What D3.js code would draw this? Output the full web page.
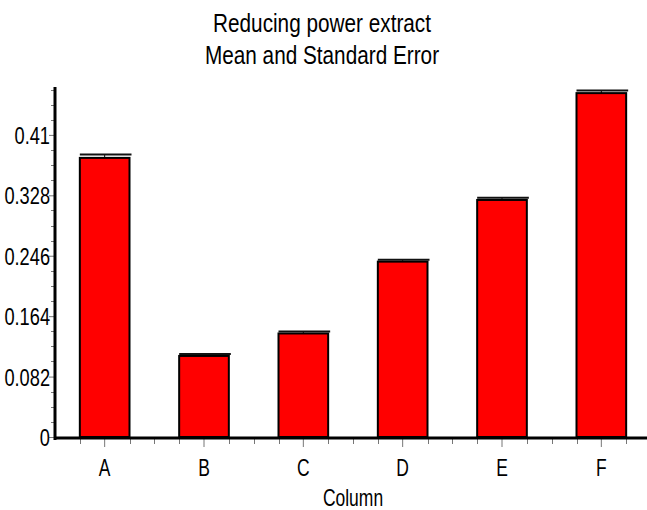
<!DOCTYPE html>
<html>
<head>
<meta charset="utf-8">
<script src="https://cdn.jsdelivr.net/npm/d3@7"></script>
<style>
  body { margin: 0; background: #fff; }
  text { font-family: "Liberation Sans", Arial, sans-serif; fill: #000; }
</style>
</head>
<body>
<script>
// chart data
var categories = ["A", "B", "C", "D", "E", "F"];
var means = [0.3788, 0.110, 0.1405, 0.238, 0.3217, 0.4667];
var stdErrors = [0.0045, 0.0027, 0.0027, 0.0027, 0.003, 0.0036];
var yTicks = [0, 0.082, 0.164, 0.246, 0.328, 0.41];
var yTickLabels = ["0", "0.082", "0.164", "0.246", "0.328", "0.41"];
var titleLines = ["Reducing power extract", "Mean and Standard Error"];
var xTitle = "Column";

const width = 647, height = 510;
var plot = {left: 55, right: 651, top: 87, bottom: 437};
var narrow = 0.76; // no narrow font installed, squeeze text horizontally

var svg = d3.select("body").append("svg")
    .attr("width", width)
    .attr("height", height);

var x = d3.scaleBand()
    .domain(categories)
    .range([plot.left, plot.right])
    .paddingInner(0).paddingOuter(0);

var y = d3.scaleLinear()
    .domain([0, 0.475])
    .range([plot.bottom, plot.top]);

var bw = x.bandwidth();

// minor ticks every quarter band on x, every quarter step on y
var xMinor = d3.range(1, categories.length * 4).filter(function(k) { return k % 4 != 2; })
    .map(function(k) { return plot.left + k * bw / 4; });
var yMinor = d3.range(0, 24).map(function(k) { return k * 0.0205; })
    .filter(function(v) { return v <= 0.475 && (Math.round(v / 0.0205) % 4 != 0); });

// Y axis
var yAxis = svg.append("g")
    .attr("transform", "translate(" + plot.left + ",0)")
    .call(d3.axisLeft(y).tickValues(yTicks).tickSize(6).tickPadding(0)
        .tickFormat(function(d, i) { return yTickLabels[i]; }));
yAxis.select(".domain").remove();
yAxis.selectAll(".tick line").attr("stroke", "#777").attr("stroke-width", 1);
yAxis.selectAll(".tick text")
    .style("font-size", "24px")
    .attr("dy", "0.36em")
    .attr("x", -5 / narrow)
    .attr("transform", "scale(" + narrow + ",1)");

svg.append("g").selectAll("line")
    .data(yMinor)
    .enter().append("line")
    .attr("x1", plot.left - 4).attr("x2", plot.left)
    .attr("y1", function(d) { return Math.round(y(d)) + 0.5; })
    .attr("y2", function(d) { return Math.round(y(d)) + 0.5; })
    .attr("stroke", "#777");

// X axis
var xAxis = svg.append("g")
    .attr("transform", "translate(0," + (plot.bottom + 1) + ")")
    .call(d3.axisBottom(x).tickSize(9).tickPadding(13));
xAxis.select(".domain").remove();
xAxis.selectAll(".tick line").attr("stroke", "#777");
xAxis.selectAll(".tick text")
    .style("font-size", "23px")
    .attr("transform", "scale(" + narrow + ",1)");

svg.append("g").selectAll("line")
    .data(xMinor)
    .enter().append("line")
    .attr("x1", function(d) { return Math.round(d) + 0.5; })
    .attr("x2", function(d) { return Math.round(d) + 0.5; })
    .attr("y1", plot.bottom + 1).attr("y2", plot.bottom + 7)
    .attr("stroke", "#777");

// bars
svg.selectAll(".bar")
    .data(categories)
    .enter().append("rect")
    .attr("class", "bar")
    .attr("x", function(d) { return x(d) + bw / 4; })
    .attr("y", function(d, i) { return y(means[i]); })
    .attr("width", bw / 2)
    .attr("height", function(d, i) { return y(0) - y(means[i]); })
    .style("fill", "#ff0000")
    .style("stroke", "#000")
    .style("stroke-width", 2);

// error bars (upper only)
var err = svg.append("g");
err.selectAll(".stem")
    .data(categories)
    .enter().append("line")
    .attr("x1", function(d) { return x(d) + bw / 2; })
    .attr("x2", function(d) { return x(d) + bw / 2; })
    .attr("y1", function(d, i) { return y(means[i]); })
    .attr("y2", function(d, i) { return y(means[i] + stdErrors[i]); })
    .attr("stroke", "#000").attr("stroke-width", 1);
err.selectAll(".cap")
    .data(categories)
    .enter().append("line")
    .attr("x1", function(d) { return x(d) + bw / 4; })
    .attr("x2", function(d) { return x(d) + 3 * bw / 4 + 2; })
    .attr("y1", function(d, i) { return y(means[i] + stdErrors[i]); })
    .attr("y2", function(d, i) { return y(means[i] + stdErrors[i]); })
    .attr("stroke", "#111").attr("stroke-width", 2);

// axis lines
svg.append("line")
    .attr("x1", plot.left).attr("x2", plot.left)
    .attr("y1", plot.top).attr("y2", plot.bottom + 3)
    .attr("stroke", "#000").attr("stroke-width", 3);
svg.append("line")
    .attr("x1", plot.left).attr("x2", plot.right)
    .attr("y1", plot.bottom + 1).attr("y2", plot.bottom + 1)
    .attr("stroke", "#000").attr("stroke-width", 3);

// titles
svg.selectAll(".title")
    .data(titleLines)
    .enter().append("text")
    .attr("transform", function(d, i) {
        return "translate(322," + (32 + i * 32) + ") scale(0.83,1)";
    })
    .attr("text-anchor", "middle")
    .style("font-size", "25px")
    .text(function(d) { return d; });

svg.append("text")
    .attr("transform", "translate(" + ((plot.left + plot.right) / 2) + ",506) scale(" + narrow + ",1)")
    .attr("text-anchor", "middle")
    .style("font-size", "23px")
    .text(xTitle);
</script>
</body>
</html>
